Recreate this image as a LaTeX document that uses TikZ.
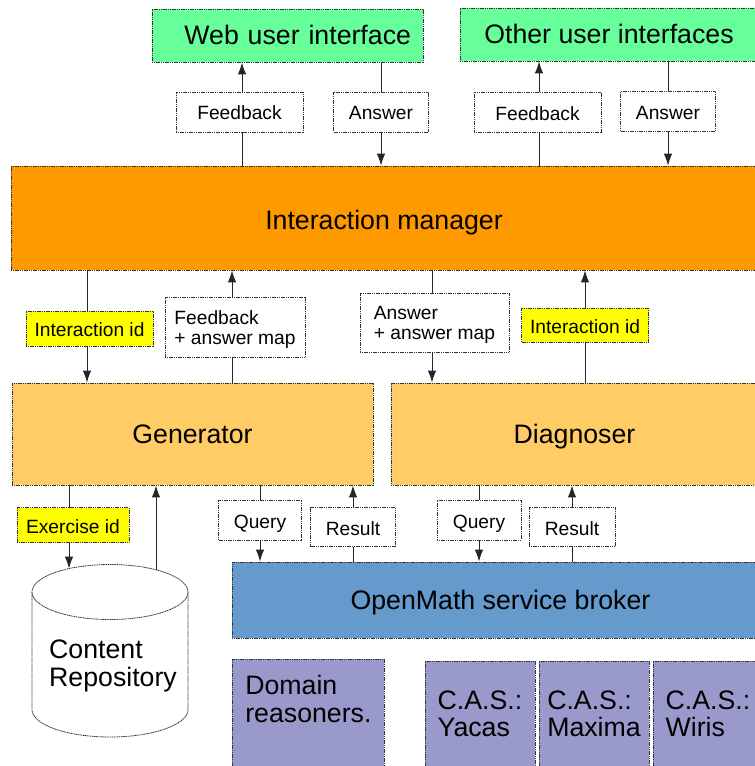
\documentclass[tikz,border=0pt]{standalone}
\usepackage{fontspec}
\setmainfont{Liberation Sans}
\usetikzlibrary{arrows.meta}
\definecolor{uigreen}{HTML}{66FF99}
\definecolor{imorange}{HTML}{FF9900}
\definecolor{partorange}{HTML}{FFCC66}
\definecolor{idyellow}{HTML}{FFFF00}
\definecolor{brokerblue}{HTML}{6699CC}
\definecolor{casviolet}{HTML}{9999CC}
\begin{document}
\begin{tikzpicture}[x=1pt,y=-1pt,
  bigtxt/.style={font=\fontsize{26.7}{27.5}\selectfont},
  smalltxt/.style={font=\fontsize{19.2}{19.5}\selectfont},
  rim/.style={draw=black!80,dash pattern=on 1.2pt off 0.6pt,line width=0.8pt},
  unit/.style={rim,bigtxt,inner sep=0pt,text height=20,text depth=2},
  twoline/.style={text height=,text depth=0},
  lbl/.style={rim,smalltxt,fill=white,minimum height=40,inner sep=0pt,text height=16.5,text depth=0.5},
  idlbl/.style={lbl,fill=idyellow,minimum height=35},
  arr/.style={draw=black!85,line width=1pt,-{Latex[length=12pt,width=8.5pt]}}]
\clip (0,0) rectangle (755,766);
% user interfaces
\node[unit,fill=uigreen,minimum width=271,minimum height=53,text width=247,align=right,inner xsep=12] (webui) at (287.5,35.5) {Web user interface};
\node[unit,fill=uigreen,minimum width=298,minimum height=53] (otherui) at (609,34.5) {Other user interfaces};
% middle layer
\node[unit,fill=imorange,minimum width=746,minimum height=104,text height=23,text depth=0] (im) at (384,218) {Interaction manager};
\node[unit,fill=partorange,minimum width=361,minimum height=102] (gen) at (192.5,434) {Generator};
\node[unit,fill=partorange,minimum width=367,minimum height=102] (diag) at (574.5,434) {Diagnoser};
\node[unit,fill=brokerblue,minimum width=537,minimum height=76] (broker) at (500.5,600) {OpenMath service broker};
% reasoners
\node[unit,twoline,fill=casviolet,anchor=north west,minimum width=152,align=left,inner ysep=16,text depth=90] (domain) at (232,659) {Domain\\reasoners.};
\node[unit,twoline,fill=casviolet,minimum width=110,minimum height=105,align=left] (yacas) at (480,713.5) {C.A.S.:\\Yacas};
\node[unit,twoline,fill=casviolet,minimum width=110,minimum height=105,align=left] (maxima) at (594,713.5) {C.A.S.:\\Maxima};
\node[unit,twoline,fill=casviolet,minimum width=110,minimum height=105,align=left] (wiris) at (708,713.5) {C.A.S.:\\Wiris};
% content repository
\draw[rim,fill=white] (32,592) -- (32,709.5) arc[start angle=180,end angle=0,x radius=78,y radius=27.5] -- (188,592);
\draw[rim] (110,592) ellipse[x radius=78,y radius=27.5];
\node[bigtxt,align=left,anchor=north west,inner sep=0pt] (repo) at (49,640) {Content\\Repository};
\coordinate (repoin) at (69,568.6);
\coordinate (repoout) at (156,569.8);
% ui <-> manager
\draw[arr] (242,0 |- im.north) -- node[lbl,pos=0.52,minimum width=127,xshift=-2.5] (fbweb) {Feedback} (242,0 |- webui.south);
\draw[arr] (381,0 |- webui.south) -- node[lbl,pos=0.48,minimum width=95] (answeb) {Answer} (381,0 |- im.north);
\draw[arr] (539,0 |- im.north) -- node[lbl,pos=0.51,minimum width=127,xshift=-1.5] (fbother) {Feedback} (539,0 |- otherui.south);
\draw[arr] (668,0 |- otherui.south) -- node[lbl,pos=0.48,minimum width=95] (ansother) {Answer} (668,0 |- im.north);
% manager <-> generator, diagnoser
\draw[arr] (87,0 |- im.south) -- node[idlbl,pos=0.52,minimum width=127,xshift=2.5] (genid) {Interaction id} (87,0 |- gen.north);
\draw[arr] (232,0 |- gen.north) -- node[lbl,twoline,pos=0.49,minimum width=140,minimum height=60,align=left,xshift=3,yshift=0] (genfb) {Feedback\\+ answer map} (232,0 |- im.south);
\draw[arr] (432,0 |- im.south) -- node[lbl,twoline,pos=0.47,minimum width=149,minimum height=59,align=left,xshift=2.5] (diagans) {Answer\\+ answer map} (432,0 |- diag.north);
\draw[arr] (585,0 |- diag.north) -- node[idlbl,pos=0.51,minimum width=127,minimum height=34] (diagid) {Interaction id} (585,0 |- im.south);
% repository
\draw[arr] (69,0 |- gen.south) -- node[idlbl,pos=0.48,minimum width=112,xshift=4] (exid) {Exercise id} (repoin);
\draw[arr] (repoout) -- (156,0 |- gen.south);
% broker
\draw[arr] (260,0 |- gen.south) -- node[lbl,pos=0.455,minimum width=83] (genq) {Query} (260,0 |- broker.north);
\draw[arr] (353,0 |- broker.north) -- node[lbl,pos=0.45,minimum width=85,minimum height=39] (genres) {Result} (353,0 |- gen.south);
\draw[arr] (479,0 |- diag.south) -- node[lbl,pos=0.455,minimum width=84] (diagq) {Query} (479,0 |- broker.north);
\draw[arr] (572,0 |- broker.north) -- node[lbl,pos=0.45,minimum width=86,minimum height=39] (diagres) {Result} (572,0 |- diag.south);
\end{tikzpicture}
\end{document}
